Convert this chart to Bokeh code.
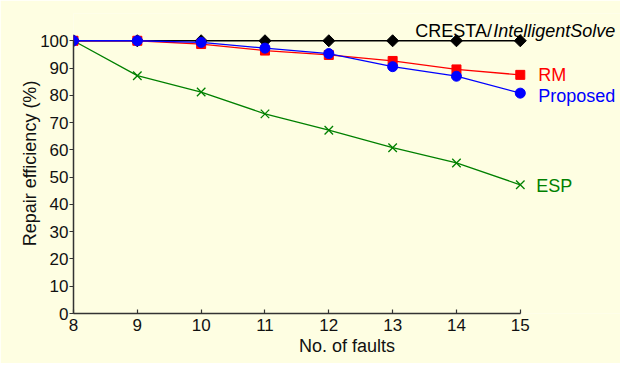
import math
from bokeh.plotting import figure
from bokeh.models import Range1d, FixedTicker
from bokeh.core.properties import value
from bokeh.embed import file_html
from bokeh.resources import INLINE

# ---- data ----
faults = [8, 9, 10, 11, 12, 13, 14, 15]
cresta = [100, 100, 100, 100, 100, 100, 100, 100]
rm = [100, 100, 98.8, 96.4, 94.8, 92.6, 89.5, 87.5]
proposed = [100, 100, 99.4, 97.3, 95.3, 90.5, 87.0, 80.8]
esp = [100, 87.2, 81.2, 73.2, 67.2, 60.8, 55.2, 47.2]
y_ticks = [0, 10, 20, 30, 40, 50, 60, 70, 80, 90, 100]
x_ticks = faults

FONT = "Liberation Sans"
BG = "#FEFEE2"
AXC = "#333333"

p = figure(width=620, height=363, output_backend="svg", toolbar_location=None,
           x_range=Range1d(8, 16.57), y_range=Range1d(0, 110),
           min_border_left=73, min_border_right=0, min_border_top=13, min_border_bottom=50)
p.background_fill_color = BG
p.border_fill_color = BG
p.outline_line_color = None
p.grid.visible = False

# axes
xa = p.xaxis[0]
ya = p.yaxis[0]
xa.bounds = (faults[0], faults[-1])
ya.bounds = (y_ticks[0], y_ticks[-1])
xa.ticker = FixedTicker(ticks=x_ticks)
ya.ticker = FixedTicker(ticks=y_ticks)
for ax in (xa, ya):
    ax.axis_line_color = AXC
    ax.axis_line_width = 1.5
    ax.major_tick_line_color = AXC
    ax.major_tick_line_width = 1.2
    ax.minor_tick_line_color = None
    ax.major_label_text_font = FONT
    ax.major_label_text_font_size = "17px"
    ax.major_label_text_color = "#111111"
    ax.axis_label_text_font = FONT
    ax.axis_label_text_font_size = "18px"
    ax.axis_label_text_font_style = "normal"
    ax.axis_label_text_color = "#111111"
xa.major_tick_in = 4
xa.major_tick_out = 0
xa.major_label_standoff = 5
xa.axis_label = "No. of faults"
xa.axis_label_standoff = 2
ya.major_tick_in = 0
ya.major_tick_out = 4
ya.major_label_standoff = 1
ya.axis_label = "Repair efficiency (%)"
ya.axis_label_standoff = -3

# series (draw order: black, green, red, blue)
p.line(faults, cresta, line_color="black", line_width=1.5)
p.scatter(faults, cresta, marker="square", angle=math.pi / 4, size=8.5,
          fill_color="black", line_color="black")

p.line(faults, esp, line_color="#008000", line_width=1.3)
p.scatter(faults, esp, marker="x", size=12, line_color="#008000", line_width=1.3)

p.line(faults, rm, line_color="#FF0000", line_width=1.3)
p.scatter(faults, rm, marker="square", size=9, fill_color="#FF0000", line_color="#FF0000")

p.line(faults, proposed, line_color="#0000FF", line_width=1.3)
p.scatter(faults, proposed, marker="circle", size=10, fill_color="#0000FF", line_color="#0000FF")

# end labels
def label(txt, yv, color, xo, yo, style="normal"):
    p.text(x=[faults[-1]], y=[yv], text=[txt], text_color=color,
           text_font=value(FONT), text_font_size="18px", text_font_style=style,
           text_align="left", text_baseline="alphabetic", x_offset=xo, y_offset=yo)

label("CRESTA/", cresta[-1], "black", -105, -10)
label("IntelligentSolve", cresta[-1], "black", -27, -10, "italic")
label("RM", rm[-1], "#FF0000", 18, 0.5)
label("Proposed", proposed[-1], "#0000FF", 18, 2.5)
label("ESP", esp[-1], "#008000", 16, 1.5)

open("out.html", "w").write(file_html(p, INLINE))
